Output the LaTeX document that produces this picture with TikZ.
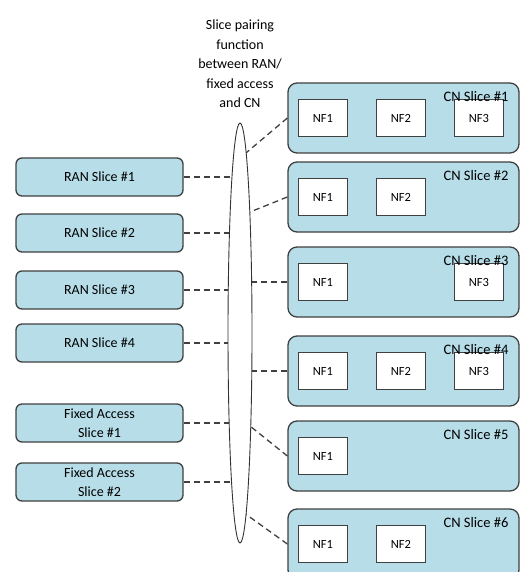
\documentclass[tikz,border=0pt]{standalone}
\usepackage{fontspec}
\setmainfont{Carlito}
\usetikzlibrary{positioning, calc, shapes.geometric}
\definecolor{slicefill}{HTML}{B7DDE8}
\definecolor{sliceline}{HTML}{404040}
\pgfdeclarelayer{LinkLayer}
\pgfsetlayers{LinkLayer,main}

\begin{document}
\begin{tikzpicture}[
		x=1pt, y=-1pt,
		slicebox/.style={
				draw=sliceline,
				fill=slicefill,
				line width=1.3pt,
				rounded corners=6pt,
				minimum width=167pt,
				minimum height=38pt,
				align=center,
				inner sep=0pt,
				font=\fontsize{14}{19}\selectfont,
			},
		cnbox/.style={
				draw=sliceline,
				fill=slicefill,
				line width=1.3pt,
				rounded corners=9pt,
				minimum width=231pt,
				minimum height=70pt,
				inner sep=0pt,
			},
		nfbox/.style={
				draw=sliceline,
				fill=white,
				line width=1.1pt,
				minimum width=49pt,
				minimum height=37pt,
				inner sep=0pt,
				font=\fontsize{12.5}{15}\selectfont,
			},
		cnlabel/.style={
				anchor=base east,
				inner sep=0pt,
				font=\fontsize{14.5}{17}\selectfont,
			},
		pairbox/.style={
				ellipse,
				draw=black!80,
				fill=white,
				line width=0.9pt,
				minimum width=24pt,
				minimum height=420pt,
				inner sep=0pt,
			},
		link/.style={
				draw=sliceline,
				line width=1.3pt,
				dash pattern=on 6pt off 4pt,
			},
	]

	\useasboundingbox (0,0) rectangle (521,572);

	% Beschriftung der Pairing-Funktion
	\node[align=center, anchor=north, inner sep=0pt, font=\fontsize{14}{19.5}\selectfont]
	(pairinglabel) at (240,20) {Slice pairing\\function\\between RAN/\\fixed access\\and CN};

	% Pairing-Funktion (schmale Ellipse)
	\node[pairbox] (pairing) at (240,333) {};

	% Zugangs-Slices links
	\foreach \i/\y/\txt in {1/177/RAN Slice \#1,2/233/RAN Slice \#2,3/290/RAN Slice \#3,
			4/343/RAN Slice \#4,5/423/Fixed Access\\Slice \#1,6/482/Fixed Access\\Slice \#2} {
			\node[slicebox] (access\i) at (99.5,\y) {\txt};
		}

	% CN-Slices rechts
	\foreach \i/\y in {1/118,2/197,3/282,4/371,5/456,6/544} {
			\node[cnbox] (cnbox\i) at (403.5,\y) {};
		}

	% Netzfunktionen in den CN-Slices
	\foreach \i/\nfs in {1/{1,2,3},2/{1,2},3/{1,3},4/{1,2,3},5/{1},6/{1,2}} {
			\foreach \n in \nfs {
					\node[nfbox] (nf\i\n) at ($(cnbox\i.west)+(\n*78-42.5,0)$) {NF\n};
				}
		}

	% Titel der CN-Slices
	\foreach \i in {1,...,6} {
			\node[cnlabel] (cnlabel\i) at ($(cnbox\i.north east)+(-11,19)$) {CN Slice \#\i};
		}

	% Gestrichelte Verbindungen (hinter der Ellipse)
	\begin{pgfonlayer}{LinkLayer}
		\foreach \i in {1,...,6} {
				\draw[link] (access\i.east) -- (access\i.east -| pairing.center);
			}
		\foreach \i/\y in {1/158,2/216,3/282,4/371,5/418,6/510} {
				\coordinate (pairend\i) at ($(pairing.center |- 0,\y)$);
				\draw[link] (cnbox\i.west) -- (pairend\i);
			}
	\end{pgfonlayer}

\end{tikzpicture}
\end{document}
